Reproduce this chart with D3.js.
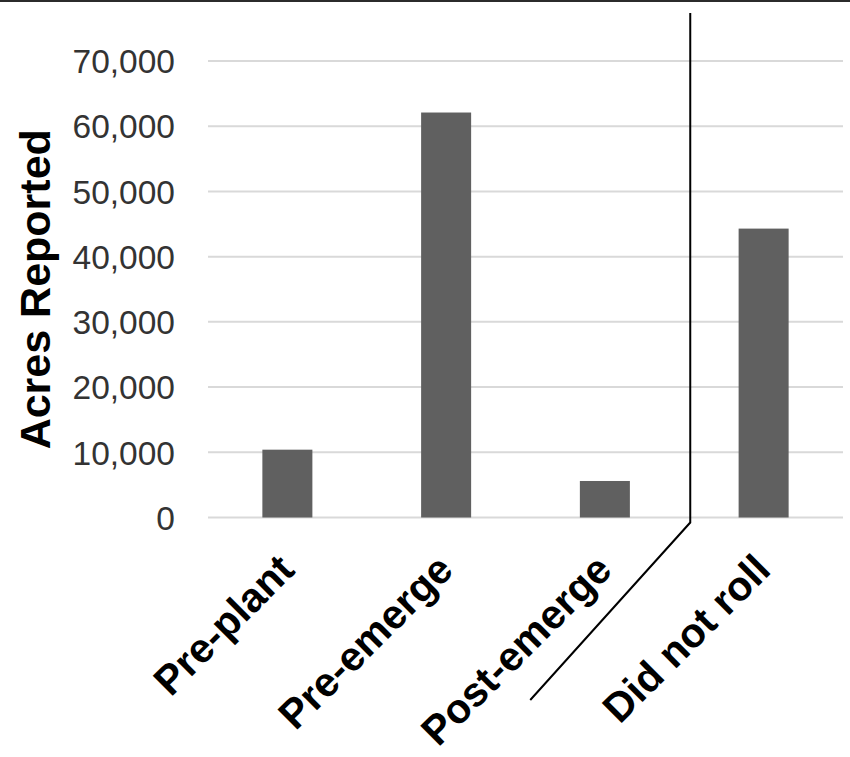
<!DOCTYPE html>
<html><head><meta charset="utf-8">
<script src="https://cdn.jsdelivr.net/npm/d3@7"></script>
<style>html,body{margin:0;padding:0;background:#fff;overflow:hidden}</style>
</head><body>
<script>
const categories = ["Pre-plant", "Pre-emerge", "Post-emerge", "Did not roll"];
const acres = [10400, 62100, 5600, 44300];
const yTicks = [0, 10000, 20000, 30000, 40000, 50000, 60000, 70000];
const yTitle = "Acres Reported";

const W = 850, H = 757;
const svg = d3.select("body").append("svg").attr("width", W).attr("height", H)
  .style("font-family", "'Liberation Sans', Arial, sans-serif");

svg.append("rect").attr("x",0).attr("y",0).attr("width",W).attr("height",2).attr("fill","#2b2b2b");

const plotL = 208, plotR = 843, plotT = 61, plotB = 517.5;
const x = d3.scaleBand().domain(categories).range([plotL, plotR]).paddingInner(0).paddingOuter(0);
const y = d3.scaleLinear().domain([0, 70000]).range([plotB, plotT]);
const barW = x.bandwidth() * 0.315;

// gridlines
svg.append("g").selectAll("line").data(yTicks).join("line")
  .attr("x1", plotL).attr("x2", plotR)
  .attr("y1", d => y(d)).attr("y2", d => y(d))
  .attr("stroke", "#d9d9d9").attr("stroke-width", 2);

// y axis labels
const yAxis = d3.axisLeft(y).tickValues(yTicks).tickFormat(d3.format(",")).tickSize(0).tickPadding(0);
const ya = svg.append("g").attr("transform", `translate(175,0)`).call(yAxis);
ya.select(".domain").remove();
ya.selectAll("text").attr("font-size", "33.5px").attr("fill", "#333")
  .attr("font-family", "'Liberation Sans', Arial, sans-serif").attr("dy", "0.35em");

// bars
svg.append("g").selectAll("rect").data(acres).join("rect")
  .attr("x", (d, i) => x(categories[i]) + x.bandwidth()/2 - barW/2)
  .attr("width", barW)
  .attr("y", d => y(d))
  .attr("height", d => y(0) - y(d))
  .attr("fill", "#606060");

// x labels
svg.append("g").selectAll("text").data(categories).join("text")
  .attr("transform", d => `translate(${x(d) + x.bandwidth()/2 + 9},572) rotate(-45)`)
  .attr("text-anchor", "end")
  .attr("font-size", "41px").attr("font-weight", "bold").attr("fill", "#000")
  .text(d => d);

// y title
svg.append("text")
  .attr("transform", `translate(50,${(y(0)+y(70000))/2}) rotate(-90)`)
  .attr("text-anchor", "middle")
  .attr("font-size", "43px").attr("font-weight", "bold").attr("fill", "#000")
  .text(yTitle);

// separator annotation
const sepX = x(categories[3]) + 6;
svg.append("path")
  .attr("d", `M${sepX},13 L${sepX},${plotB + 5} L${sepX - 160},700`)
  .attr("fill", "none").attr("stroke", "#000").attr("stroke-width", 2);
</script>
</body></html>
